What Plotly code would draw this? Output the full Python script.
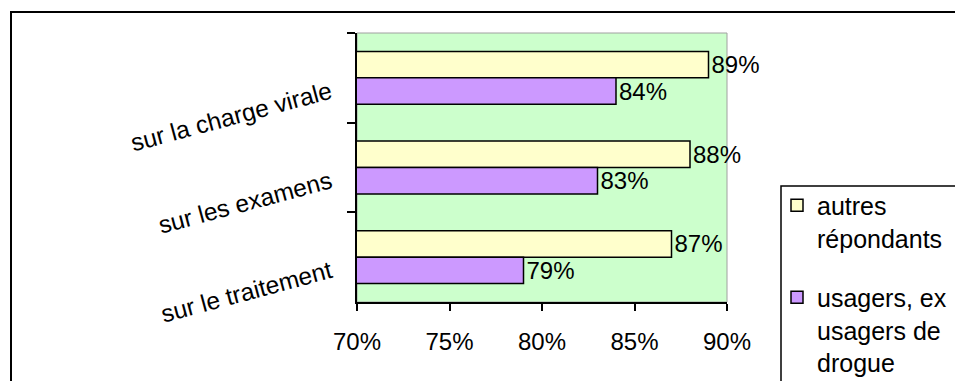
import plotly.graph_objects as go

# Categories, top to bottom
categories = ["sur la charge virale", "sur les examens", "sur le traitement"]

# Share of respondents (%)
autres_repondants = [89, 88, 87]
usagers_drogue = [84, 83, 79]

series_names = ["autres<br>répondants", "usagers, ex<br>usagers de<br>drogue"]

x_ticks = [70, 75, 80, 85, 90]
x_tick_labels = [f"{v}%" for v in x_ticks]

FONT = "Arial, Liberation Sans, sans-serif"

W, H = 955, 381
L, R, T, B = 357, 228, 33, 79
pw, ph = W - L - R, H - T - B


def px_x(p):
    return (p - L) / pw


def px_y(p):
    return (H - B - p) / ph


fig = go.Figure()

fig.add_trace(go.Bar(
    y=categories, x=autres_repondants, orientation="h",
    name=series_names[0], legendgroup="a",
    marker=dict(color="#FFFFCC", line=dict(color="black", width=1.5)),
    text=[f"{v}%" for v in autres_repondants], textposition="outside",
    textfont=dict(size=24, color="black", family=FONT),
    constraintext="none", cliponaxis=False,
))
fig.add_trace(go.Bar(
    y=categories, x=usagers_drogue, orientation="h",
    name=series_names[1], legendgroup="b",
    marker=dict(color="#CC99FF", line=dict(color="black", width=1.5)),
    text=[f"{v}%" for v in usagers_drogue], textposition="outside",
    textfont=dict(size=24, color="black", family=FONT),
    constraintext="none", cliponaxis=False,
))

fig.update_layout(
    width=W, height=H,
    margin=dict(l=L, r=R, t=T, b=B, autoexpand=False),
    paper_bgcolor="white",
    plot_bgcolor="#CCFFCC",
    barmode="group",
    bargap=0.41,
    bargroupgap=0,
    font=dict(family=FONT, size=24, color="black"),
    showlegend=True,
    legend=dict(
        x=px_x(781), y=px_y(182.5), xanchor="left", yanchor="top",
        xref="paper", yref="paper",
        bgcolor="rgba(0,0,0,0)", borderwidth=0,
        font=dict(size=25, family=FONT, color="black"),
        traceorder="grouped", tracegroupgap=24,
        valign="top", indentation=-4,
    ),
    xaxis=dict(
        range=[70, 90], tickvals=x_ticks, ticktext=x_tick_labels,
        showgrid=False, zeroline=False,
        showline=True, linecolor="black", linewidth=1.5,
        ticks="outside", ticklen=7, tickcolor="black", tickwidth=1.5,
        tickfont=dict(size=24, family=FONT), ticklabelstandoff=10,
    ),
    yaxis=dict(
        autorange="reversed",
        showgrid=False, zeroline=False,
        showline=True, linecolor="black", linewidth=1.5,
        ticks="outside", ticklen=8, tickcolor="black", tickwidth=1.5,
        tickson="boundaries", tickangle=-15,
        ticklabelstandoff=20, ticklabelshift=-12,
        tickfont=dict(size=24.5, family=FONT),
    ),
    shapes=[
        # grey border around the plot area
        dict(type="rect", xref="paper", yref="paper", x0=0, x1=1, y0=0, y1=1,
             line=dict(color="#A0A0A0", width=1), layer="below"),
        # outer chart frame
        dict(type="rect", xref="paper", yref="paper",
             x0=px_x(11), x1=px_x(965), y0=px_y(395), y1=px_y(12),
             line=dict(color="black", width=2), layer="above"),
        # legend box
        dict(type="rect", xref="paper", yref="paper",
             x0=px_x(781), x1=px_x(975), y0=px_y(400), y1=px_y(186),
             line=dict(color="black", width=1.5), fillcolor="rgba(0,0,0,0)",
             layer="above"),
    ],
)

fig.write_html("out.html")
